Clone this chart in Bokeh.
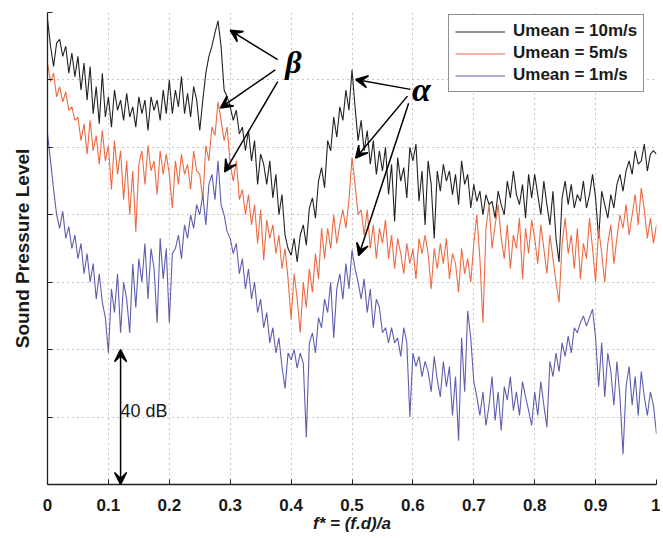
from bokeh.plotting import figure
from bokeh.models import Range1d, FixedTicker, Arrow, VeeHead, Label
from bokeh.embed import file_html
from bokeh.resources import INLINE

# frequency axis (f* = f.d/a), step 0.005
f_star = [round(i * 0.005, 3) for i in range(201)]

# Sound pressure level (dB, arbitrary reference)
spl_10ms = [
    138, 130, 124, 131, 132, 127, 130, 122, 128, 121,
    127, 117, 125, 114, 124, 110, 118, 107, 122, 109,
    115, 106, 117, 111, 114, 108, 116, 109, 112, 106,
    115, 110, 114, 105, 115, 111, 114, 108, 117, 110,
    120, 110, 117, 112, 121, 110, 116, 109, 118, 114,
    105, 114, 122, 127, 130, 134, 137.5, 130, 117, 115,
    112, 108, 111, 104, 106, 99, 105, 96, 102, 89,
    98, 95, 89, 96, 85, 92, 80, 86, 74, 70,
    68, 73, 66, 74, 77, 71, 82, 85, 79, 90,
    94, 88, 102, 99, 109, 103, 112, 108, 117, 111,
    123, 112, 102, 108, 99, 105, 95, 102, 92, 99,
    93, 100, 86, 95, 78, 97, 90, 94, 85, 100,
    96, 101, 84, 93, 77, 96, 89, 73, 93, 87,
    95, 90, 93, 86, 92, 83, 96, 89, 92, 82,
    89, 84, 87, 80, 86, 83, 84, 79, 87, 83,
    80, 90, 85, 93, 86, 83, 89, 79, 92, 85,
    92, 86, 80, 90, 83, 77, 87, 73, 66, 85,
    90, 83, 89, 82, 86, 84, 90, 82, 86, 92,
    85, 73, 87, 83, 79, 86, 82, 89, 92, 87,
    93, 96, 92, 99, 95, 96, 101, 93, 98, 99,
    98,
]

spl_5ms = [
    125, 119.5, 122, 115, 118, 113.5, 116.5, 111, 112, 108,
    109, 102, 107, 98, 108, 99, 103.5, 95, 105, 96,
    100.5, 87.5, 102, 92, 99, 84.5, 96, 80, 93, 75,
    95, 99, 89, 100.5, 93, 96, 86, 99, 92, 98,
    92, 82, 96, 89, 98, 92, 95, 87.5, 99, 93,
    92, 84.5, 100.5, 96, 106, 103.5, 113.5, 108, 102, 106,
    95, 90, 96, 84.5, 87.5, 80, 86, 77, 83, 71.5,
    81.5, 66.5, 78.5, 73, 77, 68.5, 74, 64, 70, 61,
    49, 62.5, 55, 45, 60, 52.5, 64, 57, 68.5, 61,
    76, 67, 76, 70, 80, 71.5, 77, 81.5, 76, 84.5,
    97, 89, 80, 81.5, 74, 81.5, 70, 77, 67, 76,
    71.5, 78.5, 67, 74, 64, 73, 68.5, 62.5, 71.5, 65.5,
    70, 61, 73, 68.5, 74, 68.5, 58, 70, 64, 71.5,
    65.5, 73, 61, 68.5, 65.5, 57, 70, 62.5, 67, 60,
    71.5, 80, 67, 48, 76, 83, 70, 77, 83, 73,
    67, 77, 64, 74, 70, 79, 61, 76, 68.5, 78.5,
    73, 65.5, 77, 70, 62.5, 74, 67, 60, 54, 71.5,
    79, 68.5, 74, 64, 76, 61, 71.5, 67, 79, 70,
    60, 76, 68.5, 60, 71.5, 77, 65.5, 73, 80, 76,
    83, 74, 80, 86, 77, 88, 81.5, 73, 79, 71.5,
    77,
]

spl_1ms = [
    104, 96, 87.5, 80, 76, 81, 73, 76.5, 70, 74,
    67, 71.5, 62.5, 68.5, 60, 65.5, 55, 62.5, 54, 49.5,
    39, 58, 51, 62.5, 45, 60, 55, 45, 65.5, 52.5,
    67, 60, 71.5, 55, 70, 64, 48, 73, 61, 70,
    48, 68.5, 70, 74, 67, 77, 73, 80, 76, 83,
    80, 86, 77, 89, 92, 84.5, 96, 83, 80, 75,
    73, 68.5, 71.5, 62.5, 67, 58, 64, 55, 60, 51,
    55, 46.5, 51, 42, 46.5, 39, 43.5, 35, 28.5, 39,
    37, 40, 34.5, 39, 36, 14, 42, 45, 39, 49.5,
    46.5, 55, 51, 60, 43.5, 58, 62.5, 55, 65.5, 58,
    69.5, 64, 60, 55, 61, 51, 58, 46.5, 55, 52.5,
    45, 46.5, 42, 46.5, 42, 43.5, 38, 46.5, 42, 20,
    39, 35, 38, 32, 36.5, 33.5, 27.5, 38, 31, 26,
    36.5, 29, 35, 20.5, 32, 13, 43.5, 27.5, 51.5, 43.5,
    30.5, 26, 20.5, 27.5, 17.5, 23.5, 32, 19, 27.5, 16,
    29, 25, 32, 22, 27.5, 20.5, 30.5, 26, 22, 17.5,
    27.5, 20.5, 30.5, 23.5, 17, 36.5, 32, 39, 33.5, 42,
    38, 44, 39, 46.5, 45, 48, 50, 47, 49.5, 52,
    43.5, 29, 42, 26, 39, 33.5, 23.5, 36.5, 26, 9,
    29, 35, 23.5, 32, 20.5, 33.5, 26, 20.5, 27.5, 23.5,
    15,
]

series_labels = ["Umean = 10m/s", "Umean = 5m/s", "Umean = 1m/s"]
series_colors = ["#222222", "#ee6a43", "#5e5eae"]

x_ticks = [0, 0.1, 0.2, 0.3, 0.4, 0.5, 0.6, 0.7, 0.8, 0.9, 1]
x_tick_labels = ["0", "0.1", "0.2", "0.3", "0.4", "0.5", "0.6", "0.7", "0.8", "0.9", "1"]
y_ticks = [0, 20, 40, 60, 80, 100, 120, 140]

FONT = "Liberation Sans"
SERIF = "Liberation Serif"

p = figure(width=660, height=535, output_backend="svg", toolbar_location=None,
           x_range=Range1d(0, 1), y_range=Range1d(0, 140),
           min_border_left=47, min_border_right=4, min_border_top=12, min_border_bottom=43)
p.outline_line_color = None
p.background_fill_color = "white"

for ys, lab, col in zip([spl_10ms, spl_5ms, spl_1ms], series_labels, series_colors):
    p.line(f_star, ys, line_color=col, line_width=1.1, legend_label=lab)

# axes
p.xaxis.ticker = FixedTicker(ticks=x_ticks)
p.xaxis.major_label_overrides = {t: l for t, l in zip(x_ticks, x_tick_labels)}
p.yaxis.ticker = FixedTicker(ticks=y_ticks)
p.yaxis.major_label_overrides = {t: "" for t in y_ticks}
for ax in [p.xaxis[0], p.yaxis[0]]:
    ax.axis_line_color = "#222222"
    ax.axis_line_width = 1.3
    ax.major_tick_in = 5
    ax.major_tick_out = 0
    ax.major_tick_line_color = "#222222"
    ax.minor_tick_line_color = None
    ax.major_label_text_font = FONT
    ax.major_label_text_font_size = "17px"
    ax.major_label_text_font_style = "bold"
    ax.major_label_text_color = "#1a1a1a"
    ax.axis_label_text_font = FONT
    ax.axis_label_text_color = "#1a1a1a"

p.xaxis.major_label_standoff = 14
p.xaxis.axis_label = "f* = (f.d)/a"
p.xaxis.axis_label_text_font_size = "17px"
p.xaxis.axis_label_text_font_style = "bold italic"
p.xaxis.axis_label_standoff = 0

p.yaxis.major_label_text_font_size = "1px"
p.yaxis.major_label_standoff = 0
p.yaxis.axis_label = "Sound Pressure Level"
p.yaxis.axis_label_text_font_size = "19px"
p.yaxis.axis_label_text_font_style = "bold"
p.yaxis.axis_label_standoff = 15

# grid
for g in [p.xgrid[0], p.ygrid[0]]:
    g.grid_line_color = "#8a8a8a"
    g.grid_line_dash = "1 4"
    g.grid_line_width = 1
p.xgrid.ticker = FixedTicker(ticks=x_ticks)
p.ygrid.ticker = FixedTicker(ticks=y_ticks)

# legend
lg = p.legend[0]
lg.location = (401, 392)
lg.border_line_color = "#222222"
lg.border_line_width = 1.2
lg.background_fill_color = "white"
lg.background_fill_alpha = 1
lg.label_text_font = FONT
lg.label_text_font_size = "17px"
lg.label_text_font_style = "bold"
lg.label_text_color = "#1a1a1a"
lg.glyph_width = 50
lg.glyph_height = 19
lg.label_height = 19
lg.spacing = 2
lg.padding = 6
lg.margin = 0
lg.label_standoff = 8

# annotations (arrows pointing at peaks)
def arrow(x0, y0, x1, y1, size=12):
    p.add_layout(Arrow(end=VeeHead(size=size, line_color="black", line_width=1.5, fill_color="black"),
                       x_start=x0, y_start=y0, x_end=x1, y_end=y1,
                       line_color="black", line_width=1.5))

arrow(0.378, 126, 0.300, 134.7)
arrow(0.374, 123, 0.284, 111.7)
arrow(0.378, 119.5, 0.291, 92.7)
arrow(0.596, 117.2, 0.506, 120.1)
arrow(0.591, 115.2, 0.506, 96.8)
arrow(0.593, 113.1, 0.511, 67.9)

p.add_layout(Label(x=0.404, y=125.4, text="β", text_font=SERIF, text_font_size="32px",
                   text_font_style="bold italic", text_align="center", text_baseline="middle",
                   text_color="black"))
p.add_layout(Label(x=0.614, y=117.2, text="α", text_font=SERIF, text_font_size="34px",
                   text_font_style="bold italic", text_align="center", text_baseline="middle",
                   text_color="black"))

# 40 dB double arrow
p.add_layout(Arrow(start=VeeHead(size=12, line_color="black", line_width=1.5, fill_color="black"),
                   end=VeeHead(size=12, line_color="black", line_width=1.5, fill_color="black"),
                   x_start=0.12, y_start=0, x_end=0.12, y_end=40,
                   line_color="black", line_width=1.5))
p.add_layout(Label(x=0.12, y=21.9, text="40 dB", text_font=FONT, text_font_size="18px",
                   text_align="left", text_baseline="middle", text_color="#1a1a1a"))

open("out.html", "w").write(file_html(p, INLINE))
